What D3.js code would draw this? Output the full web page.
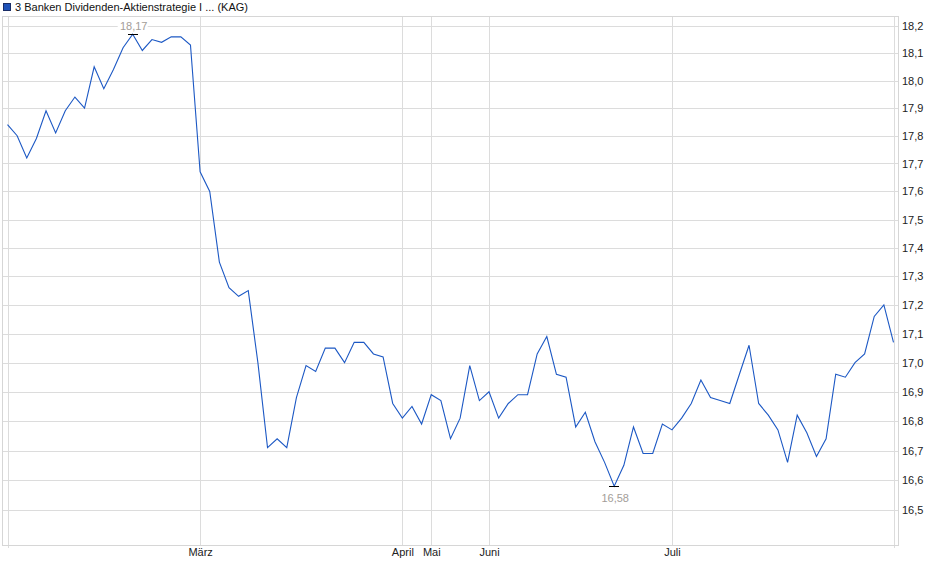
<!DOCTYPE html>
<html>
<head>
<meta charset="utf-8">
<script src="https://cdn.jsdelivr.net/npm/d3@7"></script>
<style>
	body { margin: 0; background: #fff; }
	svg { display: block; font-family: "Liberation Sans", Arial, sans-serif; }
	.grid line { stroke: #dcdcdc; stroke-width: 1; shape-rendering: crispEdges; }
	.axis text { font-size: 11px; fill: #222; }
</style>
</head>
<body>
<div id="app"></div>
<script>
// chart title
const title = '3 Banken Dividenden-Aktienstrategie I ... (KAG)';

// daily prices, one per point
const prices = [
	17.84, 17.80, 17.72, 17.79, 17.89, 17.81, 17.89, 17.94, 17.90, 18.05,
	17.97, 18.04, 18.12, 18.17, 18.11, 18.15, 18.14, 18.16, 18.16, 18.13,
	17.67, 17.60, 17.35, 17.26, 17.23, 17.25, 17.00, 16.71, 16.74, 16.71,
	16.88, 16.99, 16.97, 17.05, 17.05, 17.00, 17.07, 17.07, 17.03, 17.02,
	16.86, 16.81, 16.85, 16.79, 16.89, 16.87, 16.74, 16.81, 16.99, 16.87,
	16.90, 16.81, 16.86, 16.89, 16.89, 17.03, 17.09, 16.96, 16.95, 16.78,
	16.83, 16.73, 16.66, 16.58, 16.65, 16.78, 16.69, 16.69, 16.79, 16.77,
	16.81, 16.86, 16.94, 16.88, 16.87, 16.86, 16.96, 17.06, 16.86, 16.82,
	16.77, 16.66, 16.82, 16.76, 16.68, 16.74, 16.96, 16.95, 17.00, 17.03,
	17.16, 17.20, 17.07
];

// month labels and the point index where each month starts
const monthLabels = ['März', 'April', 'Mai', 'Juni', 'Juli'];
const monthIndex = [20, 41, 44, 50, 69];

// y tick values
const yTicks = [16.5, 16.6, 16.7, 16.8, 16.9, 17.0, 17.1, 17.2, 17.3, 17.4,
	17.5, 17.6, 17.7, 17.8, 17.9, 18.0, 18.1, 18.2];

const width = 940,
	height = 579,
	frame = { left: 2.5, right: 898.5, top: 16.5, bottom: 545.5 };

const de = d3.formatLocale({ decimal: ',', thousands: '.', grouping: [3], currency: ['', ' €'] });
const fmt1 = de.format('.1f'),
	fmt2 = de.format('.2f');

const svg = d3.select('#app').append('svg')
	.attr('width', width)
	.attr('height', height);

const xScale = d3.scaleLinear()
	.domain([0, prices.length - 1])
	.range([7.5, 893.5]);

// log scale: spacing of the gridlines grows towards the bottom
const yScale = d3.scaleLog()
	.domain([16.5, 18.2])
	.range([510, 26]);

// legend + title
svg.append('rect')
	.attr('x', 3.5).attr('y', 3.5)
	.attr('width', 7).attr('height', 7)
	.attr('fill', '#1f52b8')
	.attr('stroke', '#1a2d66');
svg.append('text')
	.attr('x', 15).attr('y', 11)
	.attr('font-size', 11)
	.attr('fill', '#111')
	.text(title);

// horizontal grid
const grid = svg.append('g').classed('grid', true);
grid.selectAll('line.h')
	.data(yTicks)
	.join('line')
	.attr('class', 'h')
	.attr('x1', frame.left).attr('x2', frame.right)
	.attr('y1', d => Math.round(yScale(d)) + 0.5)
	.attr('y2', d => Math.round(yScale(d)) + 0.5);

// vertical grid: first point, month starts, last point
const vIdx = [0, ...monthIndex, prices.length - 1];
grid.selectAll('line.v')
	.data(vIdx)
	.join('line')
	.attr('class', 'v')
	.attr('x1', d => Math.round(xScale(d)) + 0.5)
	.attr('x2', d => Math.round(xScale(d)) + 0.5)
	.attr('y1', frame.top)
	.attr('y2', (d, i) => (i === 0 || i === vIdx.length - 1) ? frame.bottom + 2 : frame.bottom);

// frame
svg.append('rect')
	.attr('x', frame.left).attr('y', frame.top)
	.attr('width', frame.right - frame.left)
	.attr('height', frame.bottom - frame.top)
	.attr('fill', 'none')
	.attr('stroke', '#d6d6d6')
	.attr('shape-rendering', 'crispEdges');

// y axis labels on the right
const yAxis = d3.axisRight(yScale)
	.tickValues(yTicks)
	.tickSize(0)
	.tickPadding(0)
	.tickFormat(fmt1);
svg.append('g')
	.classed('axis', true)
	.attr('transform', 'translate(902,0)')
	.call(yAxis)
	.call(g => g.select('.domain').remove())
	.call(g => g.selectAll('text').attr('fill', '#222').attr('font-family', null));

// x axis month labels
const xAxis = d3.axisBottom(xScale)
	.tickValues(monthIndex)
	.tickSize(0)
	.tickPadding(0)
	.tickFormat((d, i) => monthLabels[i]);
svg.append('g')
	.classed('axis', true)
	.attr('transform', `translate(0,${ frame.bottom + 3 })`)
	.call(xAxis)
	.call(g => g.select('.domain').remove())
	.call(g => g.selectAll('text').attr('fill', '#222').attr('font-family', null));

// price line
const line = d3.line()
	.x((d, i) => xScale(i))
	.y(d => yScale(d));
svg.append('path')
	.datum(prices)
	.attr('d', line)
	.attr('fill', 'none')
	.attr('stroke', '#1c58c4')
	.attr('stroke-width', 1.1)
	.attr('stroke-linejoin', 'miter');

// high / low markers
const hi = d3.maxIndex(prices),
	lo = d3.minIndex(prices);

const marks = [
	{ i: hi, v: prices[hi], dy: -5 },
	{ i: lo, v: prices[lo], dy: 15 }
];

const mg = svg.append('g');
marks.forEach(m => {
	const x = xScale(m.i),
		y = Math.round(yScale(m.v)) + 0.5;
	mg.append('line')
		.attr('x1', x - 5).attr('x2', x + 5)
		.attr('y1', y).attr('y2', y)
		.attr('stroke', '#000')
		.attr('shape-rendering', 'crispEdges');
	const label = fmt2(m.v);
	mg.append('rect')
		.attr('x', x - 15).attr('y', y + m.dy - 9)
		.attr('width', 30).attr('height', 11)
		.attr('fill', '#fff');
	mg.append('text')
		.attr('x', x + 1).attr('y', y + m.dy)
		.attr('text-anchor', 'middle')
		.attr('font-size', 11)
		.attr('fill', '#a39d98')
		.text(label);
});
</script>
</body>
</html>
